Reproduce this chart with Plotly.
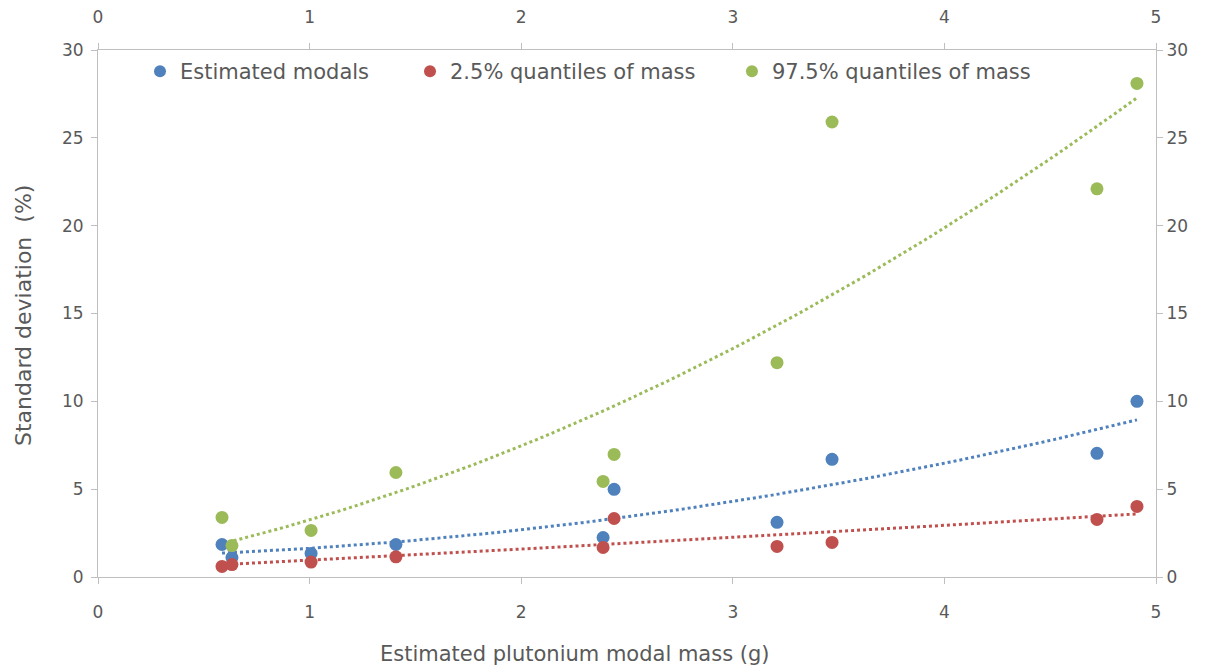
import numpy as np
import plotly.graph_objects as go

# Data
mass = [0.586, 0.633, 1.007, 1.408, 2.387, 2.439, 3.209, 3.469, 4.721, 4.91]
sd_modal = [1.85, 1.11, 1.34, 1.85, 2.25, 4.99, 3.11, 6.70, 7.04, 10.0]
sd_q025 = [0.60, 0.71, 0.85, 1.15, 1.68, 3.33, 1.74, 1.97, 3.28, 4.02]
sd_q975 = [3.39, 1.79, 2.65, 5.95, 5.44, 6.98, 12.2, 25.9, 22.1, 28.1]

names = ["Estimated modals", "2.5% quantiles of mass", "97.5% quantiles of mass"]
colors = ["#4F81BD", "#C0504D", "#9BBB59"]
x_ticks = [0, 1, 2, 3, 4, 5]
y_ticks = [0, 5, 10, 15, 20, 25, 30]
x_title = "Estimated plutonium modal mass (g)"
y_title = "Standard deviation  (%)"

FONT = "DejaVu Sans"
GREY = "#595959"

fig = go.Figure()
xs = np.array(mass)
xfit = np.linspace(xs.min(), xs.max(), 100)
series = [sd_modal, sd_q025, sd_q975]
legend_ids = ["legend", "legend2", "legend3"]
for name, col, ys in zip(names, colors, series):
    coef = np.polyfit(xs, np.array(ys), 2)
    fig.add_trace(go.Scatter(x=xfit, y=np.polyval(coef, xfit), mode="lines",
                             line=dict(color=col, width=3, dash="dot"),
                             showlegend=False, hoverinfo="skip"))
for name, col, ys, lg in zip(names, colors, series, legend_ids):
    fig.add_trace(go.Scatter(x=mass, y=ys, mode="markers", name=name,
                             marker=dict(color=col, size=13), legend=lg))

# invisible trace for the secondary (top/right) axes
fig.add_trace(go.Scatter(x=[0, 5], y=[0, 30], xaxis="x2", yaxis="y2",
                         mode="markers", marker=dict(opacity=0),
                         showlegend=False, hoverinfo="skip"))

axis_common = dict(showgrid=False, zeroline=False, showline=True,
                   linecolor="#BFBFBF", linewidth=1, ticks="outside",
                   tickcolor="#BFBFBF", ticklen=6, automargin=False,
                   tickfont=dict(size=17, color=GREY, family=FONT))

legend_common = dict(orientation="h", y=0.998, xanchor="left", yanchor="top",
                     font=dict(size=21, color=GREY, family=FONT),
                     bgcolor="rgba(0,0,0,0)", itemsizing="constant")

fig.update_layout(
    width=1209, height=670,
    margin=dict(l=90, r=61, t=42, b=101),
    paper_bgcolor="white", plot_bgcolor="white",
    font=dict(family=FONT, color=GREY),
    xaxis=dict(range=[0, 5], tickvals=x_ticks, ticklabelstandoff=14, **axis_common),
    yaxis=dict(range=[0, 30], tickvals=y_ticks, ticklabelstandoff=4, **axis_common),
    xaxis2=dict(range=[0, 5], tickvals=x_ticks, overlaying="x", side="top",
                anchor="y", ticklabelstandoff=13, **axis_common),
    yaxis2=dict(range=[0, 30], tickvals=y_ticks, overlaying="y", side="right",
                anchor="x", **axis_common),
    legend=dict(x=0.0397, **legend_common),
    legend2=dict(x=0.2949, **legend_common),
    legend3=dict(x=0.5992, **legend_common),
    annotations=[
        dict(text=x_title, xref="paper", yref="paper", x=0.4509, y=-0.1461,
             xanchor="center", yanchor="middle", showarrow=False,
             font=dict(size=21, color=GREY, family=FONT)),
        dict(text=y_title, xref="paper", yref="paper", x=-0.0699, y=0.4953,
             xanchor="center", yanchor="middle", textangle=-90, showarrow=False,
             font=dict(size=22, color=GREY, family=FONT)),
    ],
)

fig.write_html("out.html")
